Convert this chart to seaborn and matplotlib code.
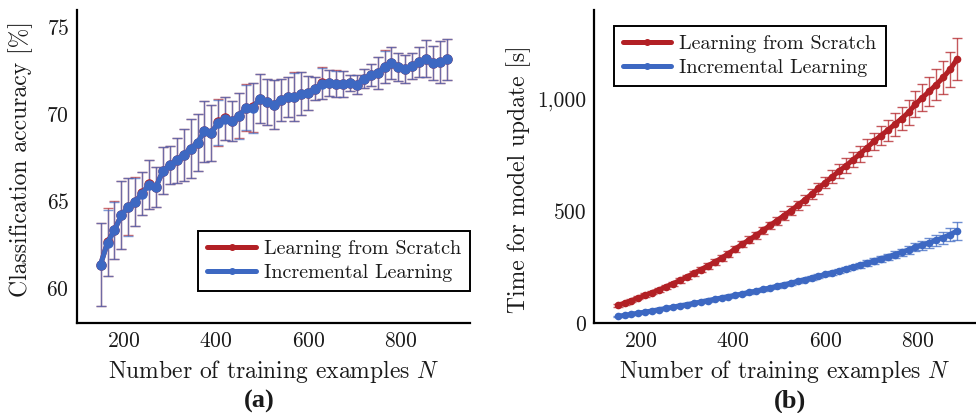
import numpy as np
import pandas as pd
import matplotlib
matplotlib.use("Agg")
import matplotlib.pyplot as plt
from matplotlib.ticker import FuncFormatter
from matplotlib.lines import Line2D
import seaborn as sns

# ---- data -------------------------------------------------------------
n_acc = np.arange(150, 901, 15)          # training set sizes, panel (a)
n_time = np.arange(150, 886, 15)         # training set sizes, panel (b)

acc_incremental = [61.36, 62.62, 63.33, 64.20, 64.67, 64.96, 65.44, 65.96, 65.82, 66.74,
                   67.07, 67.36, 67.68, 68.03, 68.37, 69.02, 68.93, 69.52, 69.75, 69.60,
                   69.90, 70.38, 70.38, 70.90, 70.70, 70.56, 70.84, 71.00, 71.00, 71.19,
                   71.23, 71.48, 71.76, 71.82, 71.76, 71.76, 71.80, 71.70, 72.05, 72.24,
                   72.38, 72.72, 72.95, 72.72, 72.60, 72.76, 73.00, 73.20, 72.95, 73.00,
                   73.16]
acc_incremental_err = [2.40, 1.90, 1.65, 1.95, 1.65, 1.40, 1.25, 1.40, 1.15, 1.35,
                       1.10, 1.30, 1.50, 1.70, 1.65, 1.75, 1.60, 1.30, 1.25, 1.15,
                       1.30, 1.30, 1.43, 1.42, 1.30, 1.40, 1.20, 1.15, 1.40, 1.25,
                       0.98, 0.65, 0.88, 0.75, 0.75, 0.74, 0.45, 0.56, 0.55, 0.64,
                       0.90, 0.94, 0.90, 0.80, 0.80, 0.75, 0.85, 1.05, 1.00, 1.20,
                       1.18]
acc_scratch = [61.36, 62.64, 63.35, 64.20, 64.68, 64.97, 65.45, 65.97, 65.83, 66.74,
               67.07, 67.36, 67.68, 68.03, 68.37, 69.02, 68.93, 69.53, 69.76, 69.60,
               69.91, 70.38, 70.39, 70.90, 70.70, 70.56, 70.84, 71.00, 71.01, 71.19,
               71.23, 71.48, 71.77, 71.82, 71.76, 71.76, 71.80, 71.71, 72.05, 72.24,
               72.38, 72.73, 72.95, 72.72, 72.61, 72.76, 73.00, 73.20, 72.95, 73.00,
               73.16]
acc_scratch_err = [2.40, 1.95, 1.65, 1.95, 1.65, 1.40, 1.25, 1.40, 1.15, 1.35,
                   1.10, 1.30, 1.50, 1.70, 1.65, 1.75, 1.60, 1.35, 1.25, 1.15,
                   1.30, 1.35, 1.43, 1.42, 1.30, 1.40, 1.20, 1.15, 1.40, 1.25,
                   0.98, 0.65, 0.92, 0.75, 0.78, 0.74, 0.45, 0.56, 0.55, 0.64,
                   0.90, 0.94, 0.90, 0.80, 0.80, 0.75, 0.85, 1.05, 1.00, 1.20,
                   1.18]

time_scratch = [79, 88, 100, 112, 124, 136, 148, 162, 176, 190,
                206, 222, 238, 255, 272, 290, 310, 332, 352, 372,
                392, 414, 436, 458, 480, 502, 526, 550, 576, 602,
                628, 654, 680, 704, 730, 756, 784, 812, 838, 862,
                888, 914, 942, 978, 1008, 1036, 1066, 1098, 1134, 1180]
time_scratch_err = [6, 6, 7, 7, 8, 8, 8, 9, 9, 10,
                    10, 11, 11, 12, 12, 13, 13, 14, 14, 15,
                    15, 16, 17, 18, 19, 20, 21, 22, 23, 24,
                    26, 28, 30, 32, 33, 35, 37, 38, 42, 46,
                    50, 52, 55, 58, 62, 66, 70, 75, 80, 93]
time_incremental = [30, 34, 39, 44, 49, 54, 60, 65, 71, 77,
                    82, 88, 94, 100, 106, 112, 118, 124, 130, 137,
                    143, 150, 157, 164, 171, 178, 186, 194, 201, 209,
                    217, 225, 233, 242, 250, 259, 268, 277, 287, 296,
                    306, 316, 327, 338, 348, 359, 370, 382, 395, 412]
time_incremental_err = [3, 3, 3, 3, 3, 4, 4, 4, 4, 4,
                        4, 4, 4, 5, 5, 5, 5, 5, 5, 6,
                        6, 6, 6, 6, 6, 7, 7, 7, 8, 8,
                        8, 9, 9, 10, 10, 11, 12, 12, 13, 14,
                        15, 16, 17, 18, 20, 22, 24, 27, 30, 40]

labels = ["Learning from Scratch", "Incremental Learning"]
RED = "#b22025"
BLUE = "#3d68c2"
TEXT = "#1a1a1a"

# ---- style ------------------------------------------------------------
sns.set_theme(style="white")
plt.rcParams.update({
    "font.family": "serif",
    "font.serif": ["cmr10"],
    "mathtext.fontset": "cm",
    "axes.formatter.use_mathtext": True,
    "axes.unicode_minus": False,
    "font.size": 14,
})

fig = plt.figure(figsize=(9.76, 4.13), dpi=100)
ax_a = fig.add_axes([0.0794, 0.218, 0.4021, 0.758])
ax_b = fig.add_axes([0.6091, 0.218, 0.3909, 0.758])


def draw_panel(ax, x, series, errs, lw, ms, ebar_alpha):
    for (y, e, color) in zip(series, errs, [RED, BLUE]):
        ax.errorbar(x, y, yerr=e, fmt="none", ecolor=color, elinewidth=1.0,
                    capsize=3.5, capthick=1.0, alpha=ebar_alpha, zorder=2)
    for (y, color, lab) in zip(series, [RED, BLUE], labels):
        df = pd.DataFrame({"N": x, "v": y})
        sns.lineplot(data=df, x="N", y="v", ax=ax, color=color, linewidth=lw,
                     marker="o", markersize=ms, markeredgewidth=0,
                     label=lab, legend=False, zorder=3)


draw_panel(ax_a, n_acc, [acc_scratch, acc_incremental],
           [acc_scratch_err, acc_incremental_err], 3.6, 7.5, 0.65)
draw_panel(ax_b, n_time, [time_scratch, time_incremental],
           [time_scratch_err, time_incremental_err], 3.6, 5.5, 0.75)

ax_a.set_xlim(100, 950)
ax_a.set_ylim(58, 76)
ax_a.set_yticks([60, 65, 70, 75])
ax_b.set_xlim(100, 926)
ax_b.set_ylim(0, 1400)
ax_b.set_yticks([0, 500, 1000])
ax_b.yaxis.set_major_formatter(FuncFormatter(lambda v, p: f"{int(v):,}"))

for ax in (ax_a, ax_b):
    ax.set_xticks([200, 400, 600, 800])
    sns.despine(ax=ax)
    for s in ("left", "bottom"):
        ax.spines[s].set_color("black")
        ax.spines[s].set_linewidth(1.6)
    ax.tick_params(direction="in", length=5, width=1, color="#a0a0a0",
                   labelsize=15.5, pad=6, labelcolor=TEXT)
    ax.set_xlabel("Number of training examples $N$", fontsize=17, labelpad=5,
                  color=TEXT)

ax_a.set_ylabel("Classification accuracy [%]", fontsize=17, color=TEXT)
ax_b.set_ylabel("Time for model update [s]", fontsize=17, color=TEXT)
ax_a.yaxis.set_label_coords(-0.113, 0.522)
ax_b.yaxis.set_label_coords(-0.167, 0.46)

handles = [Line2D([], [], color=RED, lw=3.6, marker="o", ms=4),
           Line2D([], [], color=BLUE, lw=3.6, marker="o", ms=4)]
leg_kw = dict(fontsize=14.5, frameon=True, fancybox=False, edgecolor="black",
              handlelength=2.4, borderaxespad=0, borderpad=0.45,
              labelspacing=0.3, handletextpad=0.4)
leg_a = ax_a.legend(handles, labels, loc="lower right",
                    bbox_to_anchor=(1.0, 0.102), labelcolor=TEXT, **leg_kw)
leg_b = ax_b.legend(handles, labels, loc="upper left",
                    bbox_to_anchor=(0.051, 0.95), labelcolor=TEXT, **leg_kw)
for leg in (leg_a, leg_b):
    leg.get_frame().set_linewidth(1.4)
    leg.get_frame().set_alpha(1)

fig.text(0.266, 0.028, "(a)", ha="center", va="center", fontsize=19,
         fontweight="bold", family="Liberation Serif", color=TEXT)
fig.text(0.809, 0.028, "(b)", ha="center", va="center", fontsize=19,
         fontweight="bold", family="Liberation Serif", color=TEXT)

fig.savefig("out.png", dpi=100)
